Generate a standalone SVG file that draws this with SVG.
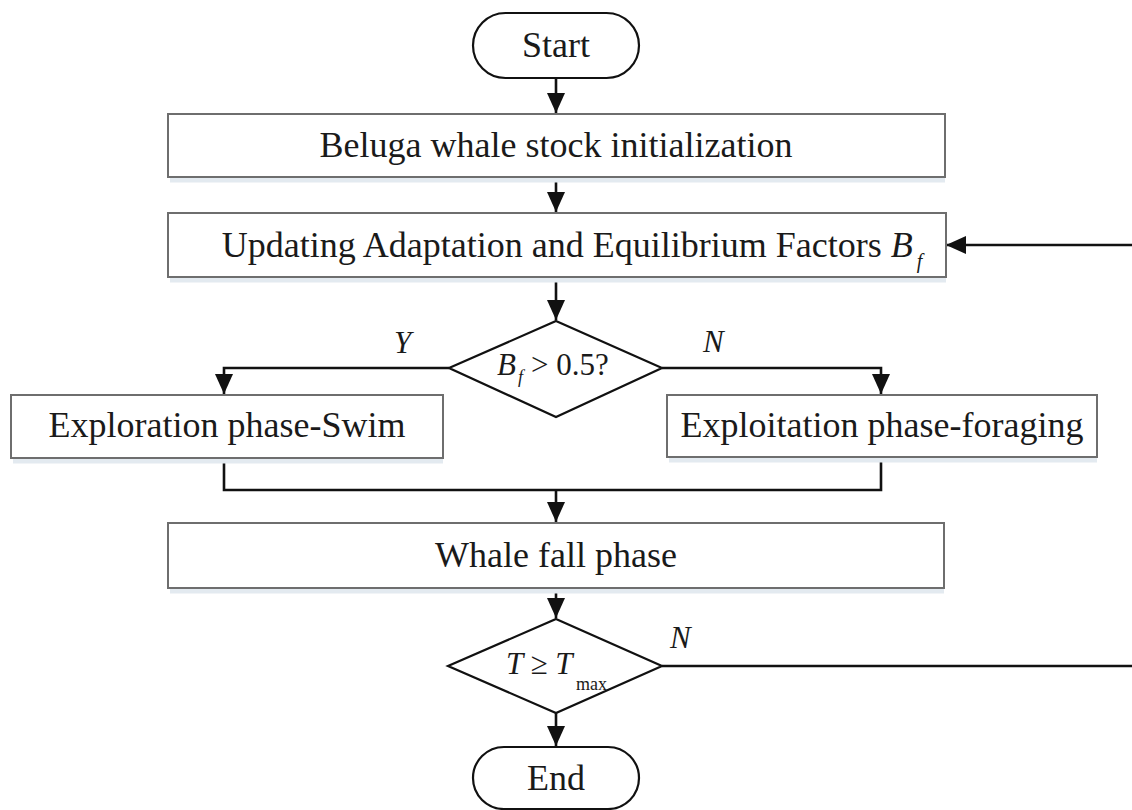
<svg xmlns="http://www.w3.org/2000/svg" width="1132" height="810" viewBox="0 0 1132 810">
<defs>
<style>
.box{fill:#fff;stroke:#6e6e6e;stroke-width:2}
.shd{fill:none;stroke:#e3eaf0;stroke-width:5}
.term{fill:#fff;stroke:#111;stroke-width:2.2}
.dia{fill:#fff;stroke:#111;stroke-width:2.2}
.t{font-family:"Liberation Serif","Times New Roman",serif;font-size:36px;fill:#1a1a1a;text-anchor:middle}
.m{font-family:"Liberation Serif","Times New Roman",serif;font-size:31px;font-style:italic;fill:#1a1a1a}
.sub{font-family:"Liberation Serif","Times New Roman",serif;font-size:18px;fill:#1a1a1a}
.c{fill:none;stroke:#111;stroke-width:2.6}
</style>
<marker id="ah" markerUnits="userSpaceOnUse" markerWidth="20" markerHeight="18" viewBox="0 0 20 18" refX="20" refY="9" orient="auto">
<path d="M0,0 L20,9 L0,18 Z" fill="#111"/>
</marker>
</defs>
<rect width="1132" height="810" fill="#fff"/>

<g id="connectors">
<path class="c" d="M556,78 L556,113" marker-end="url(#ah)"/>
<path class="c" d="M556,177 L556,212" marker-end="url(#ah)"/>
<path class="c" d="M556,277 L556,320" marker-end="url(#ah)"/>
<path class="c" d="M449,368 L224,368 L224,394" marker-end="url(#ah)"/>
<path class="c" d="M662,368 L881,368 L881,394" marker-end="url(#ah)"/>
<path class="c" d="M224,458 L224,490 L881,490 L881,457"/>
<path class="c" d="M556,490 L556,522" marker-end="url(#ah)"/>
<path class="c" d="M556,588 L556,618" marker-end="url(#ah)"/>
<path class="c" d="M556,713 L556,746" marker-end="url(#ah)"/>
<path class="c" d="M662,666 L1145,666 L1145,245 L946,245" marker-end="url(#ah)"/>
<text class="m" x="394" y="353">Y</text>
<text class="m" x="703" y="352">N</text>
<text class="m" x="670" y="648">N</text>
</g>

<g id="start">
<rect class="term" x="473" y="13" width="166" height="65" rx="32.5"/>
<text class="t" x="556" y="57">Start</text>
</g>

<g id="init">
<line class="shd" x1="170" y1="180" x2="945" y2="180"/>
<rect class="box" x="168" y="114" width="777" height="63"/>
<text class="t" x="556" y="157">Beluga whale stock initialization</text>
</g>

<g id="update">
<line class="shd" x1="170" y1="280" x2="946" y2="280"/>
<rect class="box" x="168" y="213" width="778" height="64"/>
<text class="t" x="572" y="257">Updating Adaptation and Equilibrium Factors <tspan font-style="italic">B</tspan><tspan font-style="italic" font-size="20" dy="11" dx="4">f</tspan></text>
</g>

<g id="decision1">
<polygon class="dia" points="556,321 662,368 556,417 449,368"/>
<text class="m" x="497" y="375">B<tspan font-size="18" dy="8" dx="2">f</tspan><tspan font-style="normal" dy="-8" dx="8">&gt; 0.5?</tspan></text>
</g>

<g id="explore">
<line class="shd" x1="13" y1="461" x2="443" y2="461"/>
<rect class="box" x="11" y="395" width="432" height="63"/>
<text class="t" x="227" y="437">Exploration phase-Swim</text>
</g>

<g id="exploit">
<line class="shd" x1="669" y1="460" x2="1097" y2="460"/>
<rect class="box" x="667" y="395" width="430" height="62"/>
<text class="t" x="882" y="437">Exploitation phase-foraging</text>
</g>

<g id="whalefall">
<line class="shd" x1="170" y1="591" x2="944" y2="591"/>
<rect class="box" x="168" y="523" width="776" height="65"/>
<text class="t" x="556" y="567">Whale fall phase</text>
</g>

<g id="decision2">
<polygon class="dia" points="556,619 662,666 556,713 448,666"/>
<text class="m" x="506" y="674">T <tspan font-style="normal">≥</tspan> T</text>
<text class="sub" x="576" y="690">max</text>
</g>

<g id="end">
<rect class="term" x="473" y="747" width="166" height="62" rx="31"/>
<text class="t" x="556" y="790">End</text>
</g>
</svg>
